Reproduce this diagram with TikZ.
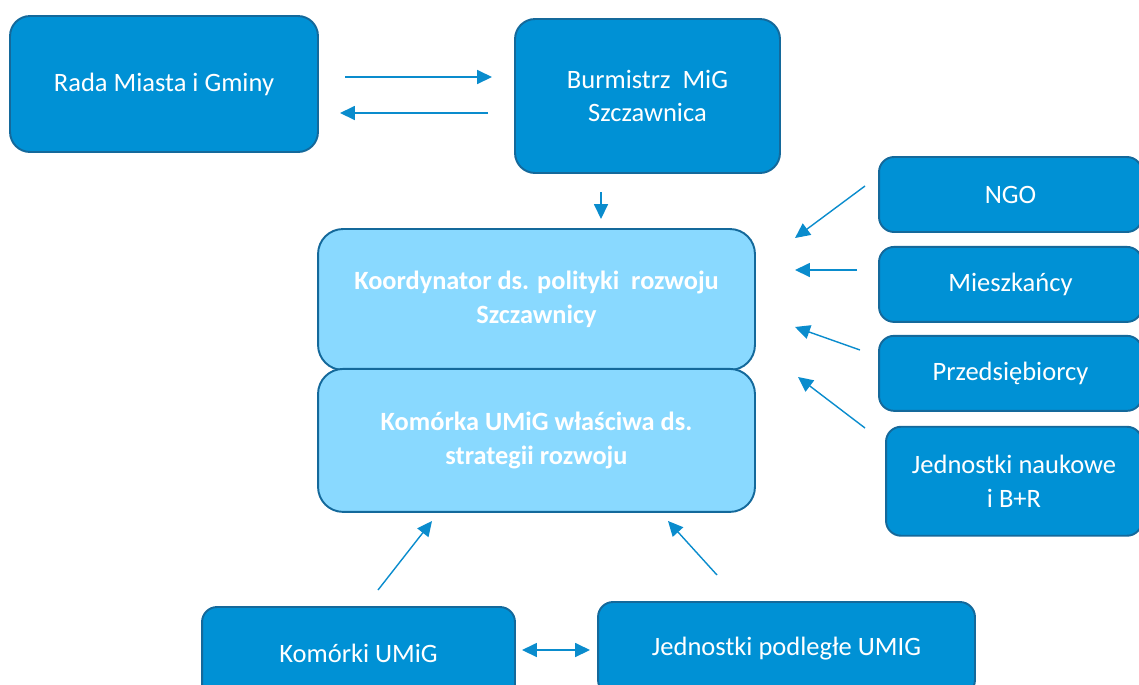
\documentclass[tikz,border=0pt]{standalone}
\usepackage{fontspec}
\setmainfont{Carlito}
\usetikzlibrary{arrows.meta,positioning}

\definecolor{unitblue}{RGB}{0,145,213}
\definecolor{edgeblue}{RGB}{20,105,155}
\definecolor{paleblue}{RGB}{137,217,255}
\definecolor{linkblue}{RGB}{10,140,205}

\begin{document}
\begin{tikzpicture}[
    x=0.02cm, y=-0.02cm,
    unit/.style={rectangle, draw=edgeblue, line width=1.1pt, fill=unitblue, text=white, align=center, rounded corners=0.4cm, inner sep=0pt, font=\fontsize{15.1}{19.2}\selectfont},
    side/.style={unit, minimum width=5.26cm, minimum height=1.5cm, rounded corners=0.3cm},
    office/.style={rectangle, draw=edgeblue, line width=1.1pt, fill=paleblue, text=white, align=center, rounded corners=0.5cm, minimum width=8.74cm, inner sep=0pt, font=\bfseries\fontsize{15}{19}\selectfont},
    arrow/.style={-{Triangle[length=8.5pt, width=8pt]}, line width=0.8pt, draw=linkblue},
    twoway/.style={arrow, {Triangle[length=8.5pt, width=8pt]}-{Triangle[length=8.5pt, width=8pt]}}
]
    \useasboundingbox (0,0) rectangle (1139,684);

    \node[unit, minimum width=6.16cm, minimum height=2.72cm] (rada) at (164,84) {Rada Miasta i Gminy};
    \node[unit, minimum width=5.3cm, minimum height=3.08cm] (burm) at (647.5,96) {Burmistrz\ \ MiG\\Szczawnica};

    \node[office, minimum height=2.82cm] (koord) at (536.5,299.5) {Koordynator ds. polityki\ \ rozwoju\\Szczawnicy};
    \node[office, minimum height=2.86cm, below=-0.06cm of koord] (kom) {Komórka UMiG właściwa ds.\\strategii rozwoju};

    \node[side] (ngo) at (1010.5,194.5) {NGO};
    \node[side, below=0.26cm of ngo] (miesz) {Mieszkańcy};
    \node[side, below=0.24cm of miesz] (przed) {Przedsiębiorcy};
    \node[side, minimum width=5.12cm, minimum height=2.18cm, below=0.28cm of przed.south east, anchor=north east] (nauk) {Jednostki naukowe\\i B+R};

    \node[unit, minimum width=6.26cm, minimum height=1.86cm, rounded corners=0.3cm] (komorki) at (358.5,653.5) {Komórki UMiG};
    \node[unit, minimum width=7.54cm, minimum height=1.86cm, rounded corners=0.3cm] (podl) at (786.5,648.5) {Jednostki podległe UMIG};

    % free ends of the connectors
    \coordinate (radaOut) at (345,77);
    \coordinate (burmIn) at (492,77);
    \coordinate (burmOut) at (488,113);
    \coordinate (radaIn) at (340,113);
    \coordinate (burmDown) at (601,192);
    \coordinate (koordTop) at (601,219);
    \coordinate (ngoOut) at (865,186);
    \coordinate (ngoIn) at (795,238);
    \coordinate (mieszOut) at (857,270);
    \coordinate (mieszIn) at (795,270);
    \coordinate (przedOut) at (860,350);
    \coordinate (przedIn) at (795,327);
    \coordinate (naukOut) at (865,428);
    \coordinate (naukIn) at (798,377);
    \coordinate (komorkiOut) at (378,590);
    \coordinate (komorkiIn) at (432,521);
    \coordinate (podlOut) at (717,575);
    \coordinate (podlIn) at (668,521);
    \coordinate (komorkiSide) at (522,650);
    \coordinate (podlSide) at (590,650);

    \draw[arrow] (radaOut) -- (burmIn);
    \draw[arrow] (burmOut) -- (radaIn);
    \draw[arrow] (burmDown) -- (koordTop);
    \draw[arrow] (ngoOut) -- (ngoIn);
    \draw[arrow] (mieszOut) -- (mieszIn);
    \draw[arrow] (przedOut) -- (przedIn);
    \draw[arrow] (naukOut) -- (naukIn);
    \draw[arrow] (komorkiOut) -- (komorkiIn);
    \draw[arrow] (podlOut) -- (podlIn);
    \draw[twoway] (komorkiSide) -- (podlSide);
\end{tikzpicture}
\end{document}
